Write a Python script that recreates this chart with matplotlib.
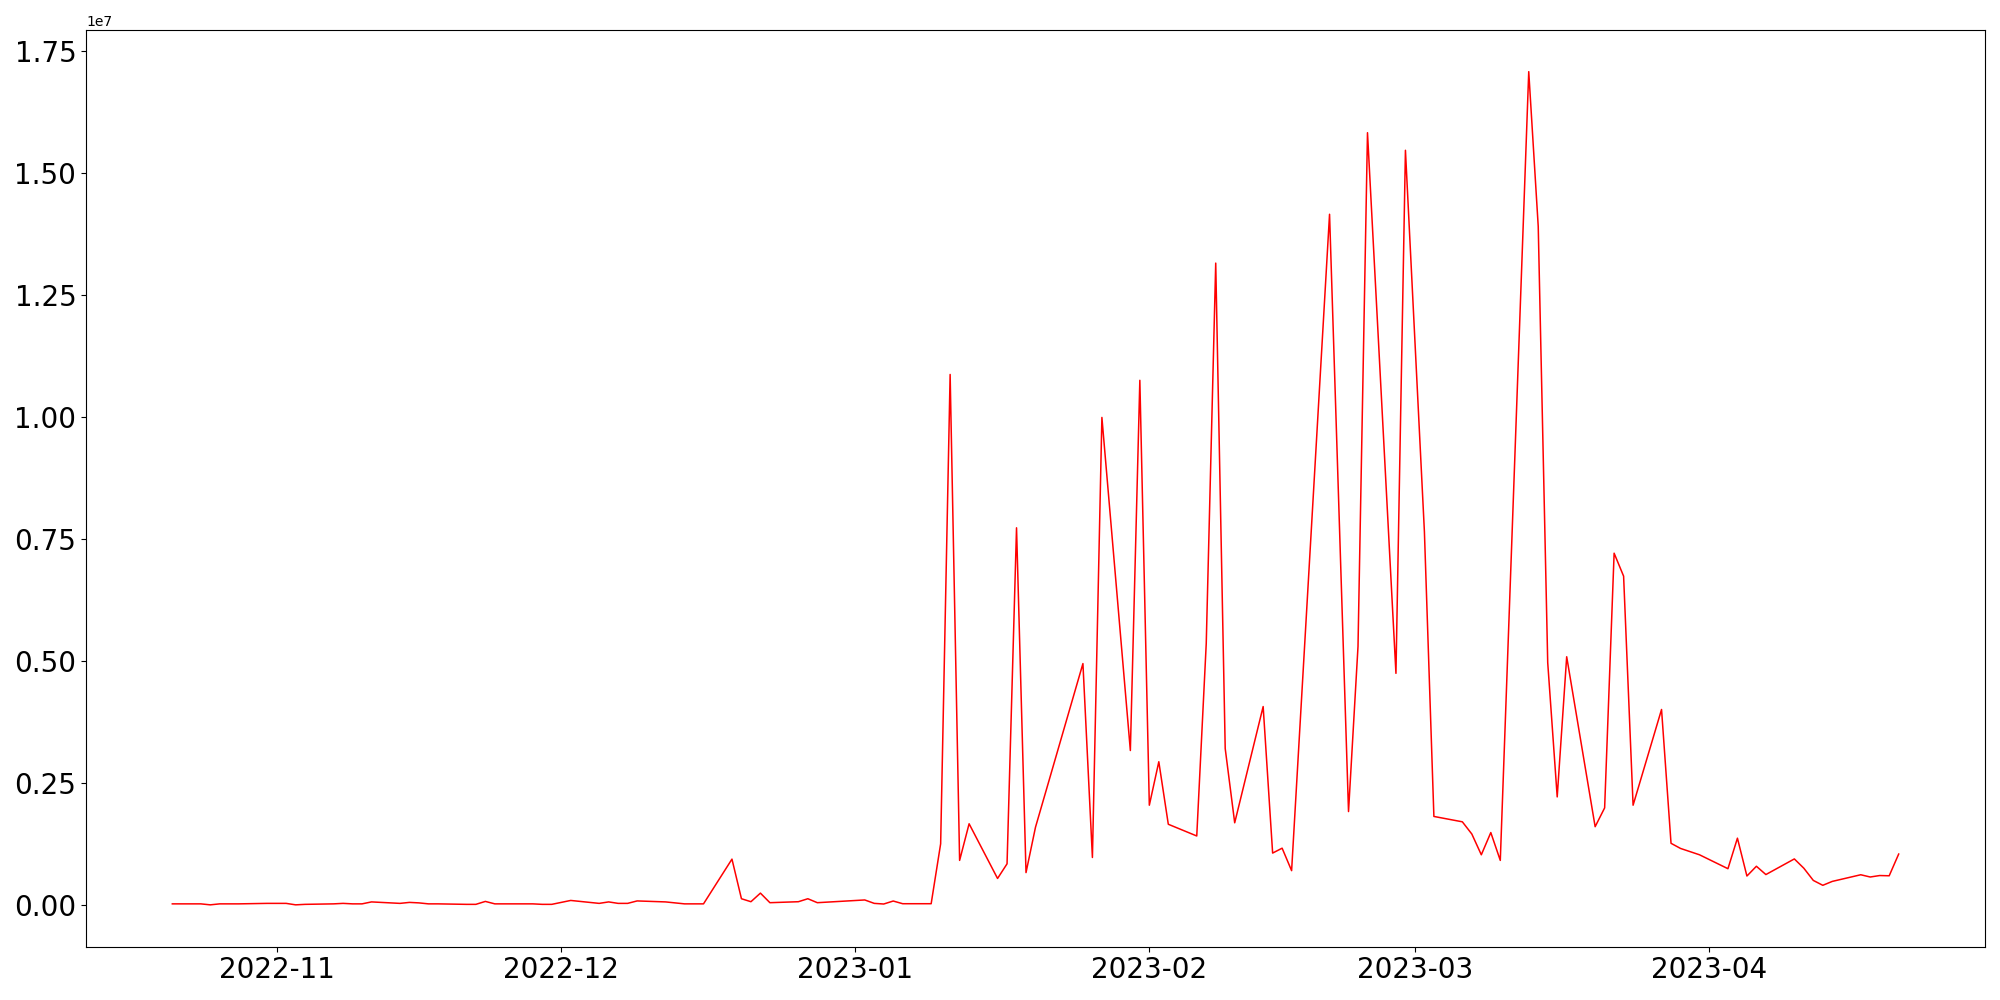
import pandas as pd
import matplotlib
matplotlib.use('Agg')
import matplotlib.pyplot as plt
import matplotlib.dates as mdates

# trading days (weekdays, with holidays skipped)
dates = [
    '2022-10-21', '2022-10-24', '2022-10-25', '2022-10-26', '2022-10-27', '2022-10-28',
    '2022-10-31', '2022-11-01', '2022-11-02', '2022-11-03', '2022-11-04',
    '2022-11-07', '2022-11-08', '2022-11-09', '2022-11-10', '2022-11-11',
    '2022-11-14', '2022-11-15', '2022-11-16', '2022-11-17', '2022-11-18',
    '2022-11-21', '2022-11-22', '2022-11-23', '2022-11-24', '2022-11-25',
    '2022-11-28', '2022-11-29', '2022-11-30', '2022-12-01', '2022-12-02',
    '2022-12-05', '2022-12-06', '2022-12-07', '2022-12-08', '2022-12-09',
    '2022-12-12', '2022-12-13', '2022-12-14', '2022-12-16',
    '2022-12-19', '2022-12-20', '2022-12-21', '2022-12-22', '2022-12-23',
    '2022-12-26', '2022-12-27', '2022-12-28',
    '2023-01-02', '2023-01-03', '2023-01-04', '2023-01-05', '2023-01-06',
    '2023-01-09', '2023-01-10', '2023-01-11', '2023-01-12', '2023-01-13',
    '2023-01-16', '2023-01-17', '2023-01-18', '2023-01-19', '2023-01-20',
    '2023-01-25', '2023-01-26', '2023-01-27',
    '2023-01-30', '2023-01-31', '2023-02-01', '2023-02-02', '2023-02-03',
    '2023-02-06', '2023-02-07', '2023-02-08', '2023-02-09', '2023-02-10',
    '2023-02-13', '2023-02-14', '2023-02-15', '2023-02-16',
    '2023-02-20', '2023-02-22', '2023-02-23', '2023-02-24',
    '2023-02-27', '2023-02-28', '2023-03-02', '2023-03-03',
    '2023-03-06', '2023-03-07', '2023-03-08', '2023-03-09', '2023-03-10',
    '2023-03-13', '2023-03-14', '2023-03-15', '2023-03-16', '2023-03-17',
    '2023-03-20', '2023-03-21', '2023-03-22', '2023-03-23', '2023-03-24',
    '2023-03-27', '2023-03-28', '2023-03-29', '2023-03-31',
    '2023-04-03', '2023-04-04', '2023-04-05', '2023-04-06', '2023-04-07',
    '2023-04-10', '2023-04-11', '2023-04-12', '2023-04-13', '2023-04-14',
    '2023-04-17', '2023-04-18', '2023-04-19', '2023-04-20', '2023-04-21',
]

# values in units of 1e7
values_1e7 = [
    0.003, 0.003, 0.001, 0.003, 0.003, 0.003,
    0.004, 0.004, 0.004, 0.001, 0.002,
    0.003, 0.004, 0.003, 0.003, 0.007,
    0.004, 0.006, 0.005, 0.003, 0.003,
    0.002, 0.002, 0.008, 0.003, 0.003,
    0.003, 0.002, 0.002, 0.006, 0.010,
    0.004, 0.007, 0.004, 0.004, 0.009,
    0.007, 0.005, 0.003, 0.003,
    0.0946, 0.0135, 0.0074, 0.025, 0.0054,
    0.0074, 0.0135, 0.0054,
    0.011, 0.004, 0.0027, 0.0088, 0.0033,
    0.0033, 0.126, 1.087, 0.092, 0.167,
    0.055, 0.085, 0.773, 0.067, 0.160,
    0.495, 0.098, 0.999,
    0.317, 1.075, 0.205, 0.294, 0.166,
    0.142, 0.536, 1.315, 0.321, 0.169,
    0.407, 0.107, 0.117, 0.071,
    1.415, 0.192, 0.530, 1.582,
    0.475, 1.546, 0.765, 0.182,
    0.171, 0.146, 0.1035, 0.149, 0.092,
    1.707, 1.390, 0.497, 0.222, 0.509,
    0.161, 0.1995, 0.721, 0.674, 0.205,
    0.401, 0.127, 0.1165, 0.1035,
    0.075, 0.1375, 0.060, 0.080, 0.063,
    0.095, 0.076, 0.051, 0.041, 0.049,
    0.0626, 0.058, 0.061, 0.0605, 0.105,
]

df = pd.DataFrame({'date': pd.to_datetime(dates),
                   'value': [v * 1e7 for v in values_1e7]})

fig, ax = plt.subplots(figsize=(20, 10), dpi=100)
ax.plot(df['date'], df['value'], color='red', linewidth=1.1)

ax.xaxis.set_major_locator(mdates.MonthLocator())
ax.xaxis.set_major_formatter(mdates.DateFormatter('%Y-%m'))
plt.xticks(fontsize=20)
plt.yticks(fontsize=20)

fig.subplots_adjust(left=0.043, right=0.9925, bottom=0.0535, top=0.97)
plt.savefig('out.png')
